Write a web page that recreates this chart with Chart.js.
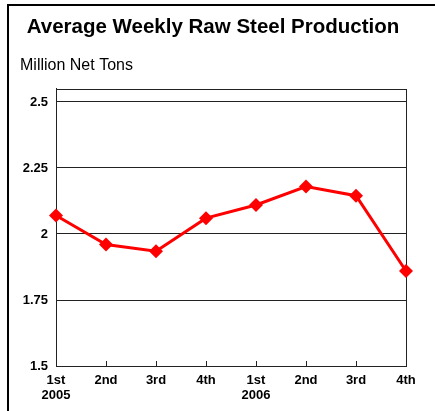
<!DOCTYPE html>
<html>
<head>
<meta charset="utf-8">
<script src="https://cdn.jsdelivr.net/npm/chart.js@4/dist/chart.umd.min.js"></script>
<style>
  html, body { margin: 0; padding: 0; background: #fff; }
  body { width: 435px; height: 411px; position: relative; overflow: hidden; }
  #frame { position: absolute; left: 7px; top: 4px; width: 440px; height: 420px;
           border-left: 2px solid #000; border-top: 2px solid #000; }
  #wrap { position: absolute; left: 0; top: 0; width: 435px; height: 411px; }
</style>
</head>
<body>
<div id="frame"></div>
<div id="wrap"><canvas id="c" width="435" height="411"></canvas></div>
<script>
const titleText = "Average Weekly Raw Steel Production";
const subtitleText = "Million Net Tons";
const quarters = [["1st", "2005"], ["2nd"], ["3rd"], ["4th"], ["1st", "2006"], ["2nd"], ["3rd"], ["4th"]];
const production = [2.07, 1.96, 1.935, 2.06, 2.11, 2.18, 2.145, 1.86];
const yTicks = [1.5, 1.75, 2, 2.25, 2.5];
const yTickLabels = ["1.5", "1.75", "2", "2.25", "2.5"];

const FONT = "'Liberation Sans', Arial, sans-serif";

const boxPlugin = {
  id: 'boxPlugin',
  beforeDatasetsDraw(chart) {
    const { ctx, chartArea: a, scales } = chart;
    ctx.save();
    ctx.strokeStyle = '#222';
    ctx.lineWidth = 1;
    ctx.strokeRect(Math.round(a.left) + 0.5, Math.round(a.top) + 0.5,
                   Math.round(a.right - a.left), Math.round(a.bottom - a.top));
    // small inward tick marks on x axis
    const xs = scales.x;
    ctx.beginPath();
    for (let i = 1; i < quarters.length - 1; i++) {
      const px = Math.round(xs.getPixelForTick(i)) + 0.5;
      ctx.moveTo(px, a.bottom);
      ctx.lineTo(px, a.bottom - 5);
    }
    ctx.stroke();
    ctx.restore();
  }
};

new Chart(document.getElementById('c'), {
  type: 'line',
  data: {
    labels: quarters,
    datasets: [{
      data: production,
      borderColor: '#ff0000',
      backgroundColor: '#ff0000',
      borderWidth: 3,
      tension: 0,
      pointStyle: 'rectRot',
      pointRadius: 7,
      pointHoverRadius: 7,
      pointBorderWidth: 0,
      pointBackgroundColor: '#ff0000',
      clip: false
    }]
  },
  options: {
    responsive: false,
    animation: false,
    events: [],
    layout: { padding: { left: 20, right: 29, top: 0, bottom: 0 } },
    plugins: {
      legend: { display: false },
      tooltip: { enabled: false },
      title: {
        display: true,
        text: titleText,
        color: '#000',
        font: { family: FONT, size: 20.5, weight: 'bold', lineHeight: 1.2 },
        padding: { top: 15, bottom: 0 }
      },
      subtitle: {
        display: true,
        text: subtitleText,
        align: 'start',
        color: '#000',
        font: { family: FONT, size: 16, weight: 'normal', lineHeight: 1.2 },
        padding: { top: 16, bottom: 14 }
      }
    },
    scales: {
      x: {
        type: 'category',
        offset: false,
        grid: { display: false, drawTicks: false },
        border: { display: true, color: '#222', width: 1 },
        ticks: {
          color: '#000',
          font: { family: FONT, size: 13, weight: 'bold', lineHeight: 1.15 },
          padding: 7,
          maxRotation: 0,
          autoSkip: false
        },
        afterFit(scale) { scale.height = 45; }
      },
      y: {
        min: 1.5,
        max: 2.55,
        afterBuildTicks(scale) { scale.ticks = yTicks.map(v => ({ value: v })); },
        grid: { color: '#222', lineWidth: 1, drawTicks: false },
        border: { display: true, color: '#222', width: 1 },
        ticks: {
          color: '#000',
          font: { family: FONT, size: 13, weight: 'bold' },
          padding: 8,
          callback(value) {
            const i = yTicks.indexOf(value);
            return i >= 0 ? yTickLabels[i] : '';
          }
        },
        afterFit(scale) { scale.width = 36; }
      }
    }
  },
  plugins: [boxPlugin]
});
</script>
</body>
</html>
